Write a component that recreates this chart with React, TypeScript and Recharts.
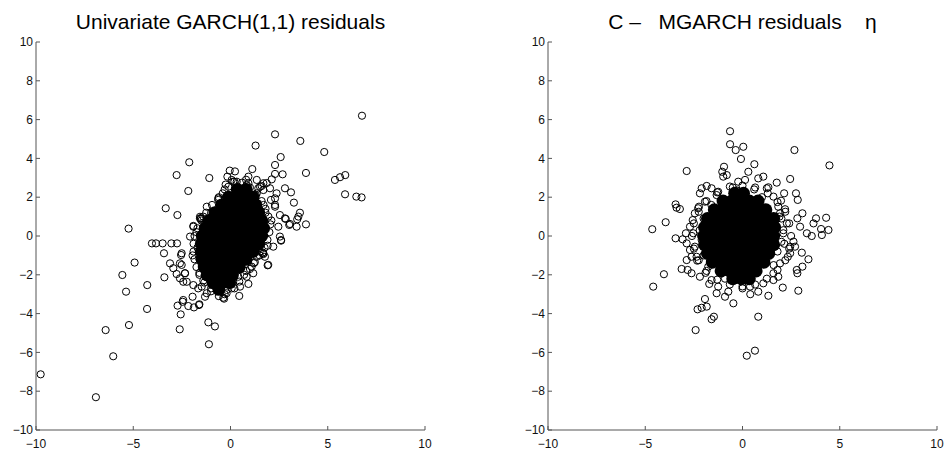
import React from 'react';
import { ScatterChart, Scatter, XAxis, YAxis } from 'recharts';

const xTicks = [-10, -5, 0, 5, 10];
const yTicks = [-10, -8, -6, -4, -2, 0, 2, 4, 6, 8, 10];
const leftTitle = 'Univariate GARCH(1,1) residuals';
const rightTitle = 'C \u2013   MGARCH residuals    \u03B7';

// Univariate GARCH(1,1) residuals: scattered points
const garchOuter: [number, number][] = [
  [-2.12, 3.8], [-2.77, 3.14], [-2.17, 2.32], [-3.33, 1.43], [-2.73, 1.08], [-5.24, 0.38],
  [-4.04, -0.38], [-3.83, -0.38], [-3.49, -0.38], [-3.04, -0.38], [-2.75, -0.38], [-3.42, -0.89],
  [-1.91, 0.52], [-1.53, 0.88],
  [6.76, 6.2], [2.29, 5.24], [1.29, 4.66], [3.59, 4.9], [4.82, 4.33], [2.58, 4.07], [2.29, 3.66],
  [-1.09, 2.99], [1.12, 3.45], [-0.04, 3.37], [0.23, 3.33], [3.88, 3.25], [5.37, 2.89], [5.63, 3.03],
  [5.9, 3.14], [5.89, 2.15], [6.47, 2.03], [6.74, 1.99], [2.68, 3.18], [2.29, 3.2], [2.12, 2.92],
  [1.86, 2.73], [1.6, 2.58], [2.8, 2.46], [3.11, 2.25], [3.26, 1.72], [3.57, 1.2], [3.49, 1.0],
  [3.43, 0.86], [3.88, 0.6], [3.06, 0.62], [2.84, 0.88], [2.6, -0.24], [1.69, -0.89], [1.91, -0.5],
  [2.37, 2.2], [2.08, 1.86], [2.29, 1.6], [0.92, 3.06], [0.92, 2.72], [1.43, 2.46], [1.69, 2.37],
  [-0.16, 3.06], [0.06, 2.89], [0.32, 2.8], [-0.11, 2.54], [-0.63, 1.86], [-1.52, 0.91],
  [-4.93, -1.37], [-5.56, -2.01], [-3.4, -2.13], [-4.28, -2.53], [-5.37, -2.87], [-4.29, -3.76],
  [-5.22, -4.59], [-6.42, -4.85], [-6.03, -6.2], [-9.76, -7.13], [-6.92, -8.31], [-2.61, -4.81],
  [-2.56, -4.04], [-2.72, -3.59], [-2.46, -3.39], [-2.43, -3.3], [-2.17, -3.61], [-1.88, -3.68],
  [-1.6, -3.52], [-1.95, -3.13], [-3.11, -1.41], [-2.94, -1.66], [-2.77, -1.96], [-2.6, -2.18],
  [-2.43, -2.36], [-2.34, -1.92], [-2.51, -1.49], [-2.54, -0.98], [-1.91, -2.53], [-1.66, -2.7],
  [-1.48, -2.61],
  [1.69, -0.93], [1.91, -1.51], [0.83, -2.1], [0.92, -2.47], [0.06, -2.7], [0.45, -3.09],
  [-0.37, -3.18], [-0.33, -3.23], [-1.31, -3.13], [-1.62, -3.56], [-1.14, -4.45], [-0.8, -4.66],
  [-1.11, -5.58], [0.14, -2.36], [-0.54, -2.44], [-0.88, -2.53], [1.35, -1.07], [1.09, -1.58],
  [2.8, 0.91], [3.02, 0.57], [3.4, 0.48], [1.94, -1.49], [2.6, -0.21], [-1.57, 0.91], [-1.91, 0.48],
  [-2.08, -0.03], [-2.51, -0.89], [-2.6, -1.41], [-2.34, -1.92], [-2.25, -2.36], [1.69, 2.72],
  [2.03, 2.46], [2.29, 1.94], [2.29, 1.51], [2.54, 1.08], [2.46, 0.48], [2.54, -0.03], [2.2, -0.55],
  [1.77, -1.07], [-0.63, 1.94], [-1.22, 1.51], [-1.57, 0.99], [-0.71, -2.61], [-0.2, -2.78],
  [-1.22, -2.95], [0.49, -2.61], [1.17, -1.92], [0.14, 2.8], [0.4, 2.46], [0.83, 2.63], [1.35, 2.89],
  [1.52, 2.54], [1.5, -0.8], [1.2, -1.4], [0.8, -1.8], [0.4, -2.1], [-1.0, 1.2], [-1.3, 0.6],
  [-0.4, 2.2], [-1.6, -1.2], [-1.7, -0.6], [-1.6, -1.9], [-1.4, -2.3], [1.75, 0.3], [1.8, 1.2],
  [1.3, 2.1], [-1.75, 0.2], [-1.0, -2.7],
  // dense fringe hugging the core
  [0.2, 2.8], [0.6, 2.75], [1.0, 2.5], [-0.3, 2.4], [1.35, 2.2], [1.6, 1.8], [1.8, 1.4], [1.95, 1.0],
  [2.05, 0.6], [2.0, 0.2], [1.9, -0.2], [1.75, -0.6], [1.5, -1.0], [1.25, -1.35], [1.0, -1.7],
  [0.7, -2.0], [0.45, -2.35], [0.2, -2.7], [-0.2, -2.95], [-0.6, -3.1], [-1.0, -2.85], [-1.35, -2.4],
  [-1.6, -2.0], [-1.75, -1.6], [-1.85, -1.2], [-1.9, -0.8], [-1.9, -0.4], [-1.85, 0.0], [-1.7, 0.4],
  [-1.5, 0.8], [-1.25, 1.2], [-0.95, 1.6], [-0.6, 2.0], [0.8, 2.9], [1.7, 1.6], [2.1, 0.8],
  [1.65, -0.85], [-0.3, -3.0], [-1.95, -1.0], [-1.4, 1.0], [-0.25, 2.65],
];

// dense centre of the GARCH cloud
const garchCore: [number, number][] = [
  [0.35, 2.4], [0.8, 2.4],
  [-0.1, 2.0], [0.35, 2.0], [0.8, 2.0], [1.15, 2.0],
  [-0.45, 1.6], [0.0, 1.6], [0.45, 1.6], [0.9, 1.6], [1.3, 1.6],
  [-0.8, 1.2], [-0.35, 1.2], [0.1, 1.2], [0.55, 1.2], [1.0, 1.2], [1.45, 1.2],
  [-1.1, 0.8], [-0.65, 0.8], [-0.2, 0.8], [0.25, 0.8], [0.7, 0.8], [1.15, 0.8], [1.6, 0.8],
  [-1.3, 0.4], [-0.85, 0.4], [-0.4, 0.4], [0.05, 0.4], [0.5, 0.4], [0.95, 0.4], [1.4, 0.4], [1.7, 0.4],
  [-1.45, 0.0], [-1.0, 0.0], [-0.55, 0.0], [-0.1, 0.0], [0.35, 0.0], [0.8, 0.0], [1.25, 0.0], [1.6, 0.0],
  [-1.5, -0.4], [-1.05, -0.4], [-0.6, -0.4], [-0.15, -0.4], [0.3, -0.4], [0.75, -0.4], [1.2, -0.4], [1.45, -0.4],
  [-1.5, -0.8], [-1.05, -0.8], [-0.6, -0.8], [-0.15, -0.8], [0.3, -0.8], [0.75, -0.8], [1.15, -0.8],
  [-1.45, -1.2], [-1.0, -1.2], [-0.55, -1.2], [-0.1, -1.2], [0.35, -1.2], [0.8, -1.2],
  [-1.35, -1.6], [-0.9, -1.6], [-0.45, -1.6], [0.0, -1.6], [0.45, -1.6],
  [-1.2, -2.0], [-0.75, -2.0], [-0.3, -2.0], [0.1, -2.0],
  [-0.9, -2.4], [-0.45, -2.4], [-0.05, -2.4],
  [-0.6, -2.75],
];

// C-MGARCH residuals eta
const mgarchOuter: [number, number][] = [
  [-0.64, 5.4], [-0.64, 4.73], [-0.35, 4.43], [0.04, 4.6], [-0.08, 3.97], [-2.87, 3.35], [-0.95, 3.57],
  [-1.04, 3.31], [-0.81, 3.14], [-0.99, 3.06], [0.3, 3.31], [-1.84, 2.58], [-1.59, 2.46], [-1.25, 2.28],
  [-1.33, 2.11], [-2.19, 2.2], [-3.44, 1.63], [-3.39, 1.46], [-3.22, 1.39], [-2.24, 1.51], [-2.45, 1.17],
  [-2.56, 0.82], [-2.7, 0.48], [-3.95, 0.71], [-4.64, 0.35], [-3.44, -0.12], [-3.08, -0.17],
  [-2.91, 0.14], [-2.87, -0.38], [-2.7, -0.72], [-2.87, -1.24], [-2.62, -1.07], [-2.33, -1.27],
  [-3.13, -1.7], [-2.82, -1.75], [-2.62, -1.92], [-4.04, -1.97], [-4.59, -2.61], [-2.19, -2.1],
  [-1.71, -2.47], [-1.33, -2.95], [-0.9, -3.13], [-0.47, -3.47], [-1.93, -3.25], [-2.31, -3.78],
  [-2.1, -3.7], [-1.84, -3.64], [-1.59, -4.29], [-1.47, -4.16], [-2.41, -4.85], [0.22, -6.17],
  [0.64, -5.91],
  [0.61, 3.7], [2.67, 4.43], [4.47, 3.64], [2.45, 2.94], [0.81, 2.97], [1.07, 3.06], [1.33, 2.51],
  [1.76, 2.75], [2.14, 2.2], [2.75, 2.2], [2.84, 1.86], [1.98, 1.82], [2.19, 1.38], [3.08, 1.17],
  [2.82, 0.91], [3.78, 0.91], [4.3, 0.94], [3.65, 0.65], [4.04, 0.36], [4.42, 0.31], [4.08, 0.05],
  [3.56, 0.0], [3.31, 0.14], [2.96, 0.48], [2.62, -0.29], [2.7, -0.55], [3.05, -0.86], [3.39, -1.2],
  [3.08, -1.58], [2.79, -1.75], [2.82, -1.92], [2.33, -1.07], [2.45, -0.55], [2.07, -2.66],
  [2.87, -2.82], [1.33, -3.08], [0.81, -2.87], [1.59, -2.27], [1.84, -2.1], [0.81, -4.16], [2.1, 0.14],
  [2.28, 0.65], [1.93, 1.17], [1.84, 1.51], [1.59, 2.03], [1.25, 2.46], [2.45, -0.89], [1.93, -1.41],
  [1.59, -1.92], [1.07, -2.44], [0.39, -2.61],
  [-2.1, 2.46], [-1.93, 1.77], [-2.28, 1.43], [-2.53, 0.14], [-2.45, -0.55], [-2.36, -1.07],
  [-1.76, -1.58], [-1.59, -2.27], [-1.25, -2.61], [-0.73, -2.87], [-0.22, 2.8], [0.13, 2.89],
  [-0.5, 2.5], [0.6, 2.4], [-1.9, -1.9], [0.0, -2.7], [0.4, -3.0], [-2.0, 0.9], [-2.1, -0.2],
  [2.0, 0.9], [2.0, -0.3], [1.8, -0.8],
  // dense fringe hugging the core
  [2.5, 0.0], [2.4, 0.65], [2.2, 1.25], [1.8, 1.75], [1.3, 2.2], [0.65, 2.5], [0.0, 2.6], [-0.65, 2.55],
  [-1.3, 2.25], [-1.85, 1.8], [-2.25, 1.25], [-2.5, 0.65], [-2.6, 0.0], [-2.5, -0.65], [-2.25, -1.25],
  [-1.85, -1.8], [-1.3, -2.25], [-0.65, -2.5], [0.0, -2.6], [0.65, -2.5], [1.25, -2.2], [1.8, -1.75],
  [2.2, -1.25], [2.4, -0.65], [2.1, 0.3], [1.9, 1.0], [1.0, 2.0], [-0.3, 2.35], [-1.6, 1.6],
  [-2.2, 0.3], [-2.0, -1.0], [-0.9, -2.2], [0.4, -2.3], [1.6, -1.5], [2.15, -0.4],
];

const mgarchCore: [number, number][] = [
  [-0.4, 2.2], [0.05, 2.2],
  [-1.0, 1.8], [-0.55, 1.8], [-0.1, 1.8], [0.35, 1.8], [0.8, 1.8],
  [-1.45, 1.35], [-1.0, 1.35], [-0.55, 1.35], [-0.1, 1.35], [0.35, 1.35], [0.8, 1.35], [1.2, 1.35],
  [-1.8, 0.9], [-1.35, 0.9], [-0.9, 0.9], [-0.45, 0.9], [0.0, 0.9], [0.45, 0.9], [0.9, 0.9], [1.35, 0.9], [1.6, 0.9],
  [-1.95, 0.45], [-1.5, 0.45], [-1.05, 0.45], [-0.6, 0.45], [-0.15, 0.45], [0.3, 0.45], [0.75, 0.45], [1.2, 0.45], [1.65, 0.45],
  [-2.0, 0.0], [-1.55, 0.0], [-1.1, 0.0], [-0.65, 0.0], [-0.2, 0.0], [0.25, 0.0], [0.7, 0.0], [1.15, 0.0], [1.6, 0.0],
  [-1.95, -0.45], [-1.5, -0.45], [-1.05, -0.45], [-0.6, -0.45], [-0.15, -0.45], [0.3, -0.45], [0.75, -0.45], [1.2, -0.45], [1.6, -0.45],
  [-1.8, -0.9], [-1.35, -0.9], [-0.9, -0.9], [-0.45, -0.9], [0.0, -0.9], [0.45, -0.9], [0.9, -0.9], [1.35, -0.9],
  [-1.55, -1.35], [-1.1, -1.35], [-0.65, -1.35], [-0.2, -1.35], [0.25, -1.35], [0.7, -1.35], [1.1, -1.35],
  [-1.1, -1.8], [-0.65, -1.8], [-0.2, -1.8], [0.25, -1.8], [0.7, -1.8],
  [-0.5, -2.2], [-0.05, -2.2], [0.35, -2.2],
];

const toPts = (arr: [number, number][]) => arr.map(([x, y]) => ({ x, y }));

const FONT = '"Liberation Sans", Arial, Helvetica, sans-serif';

const Ring = (props: any) => {
  const { cx, cy } = props;
  if (cx == null || cy == null) return null;
  return <circle cx={cx} cy={cy} r={3.6} fill="none" stroke="#000" strokeWidth={1} />;
};

const Blob = (props: any) => {
  const { cx, cy } = props;
  if (cx == null || cy == null) return null;
  return <circle cx={cx} cy={cy} r={6.5} fill="#000" stroke="none" />;
};

const fmt = (v: number) => (v < 0 ? '\u2212' + Math.abs(v) : String(v));

const Panel = ({ left, title, outer, core }: { left: number; title: string; outer: [number, number][]; core: [number, number][] }) => (
  <div style={{ position: 'absolute', left, top: 0, width: 470, height: 451 }}>
    <div
      style={{
        position: 'absolute',
        left: 36,
        width: 389,
        top: 10,
        textAlign: 'center',
        fontFamily: FONT,
        fontSize: 21,
        lineHeight: '24px',
        whiteSpace: 'pre',
        color: '#000',
      }}
    >
      {title}
    </div>
    <ScatterChart width={470} height={451} margin={{ top: 42, right: 45, bottom: 0, left: 0 }}>
      <XAxis
        type="number"
        dataKey="x"
        domain={[-10, 10]}
        ticks={xTicks}
        interval={0}
        allowDataOverflow
        height={21}
        tickSize={-4}
        tickMargin={13}
        stroke="#555"
        tickFormatter={fmt}
        tick={{ fill: '#111', fontSize: 12, fontFamily: FONT }}
      />
      <YAxis
        type="number"
        dataKey="y"
        domain={[-10, 10]}
        ticks={yTicks}
        interval={0}
        allowDataOverflow
        width={36}
        tickSize={-4}
        tickMargin={7}
        stroke="#555"
        tickFormatter={fmt}
        tick={{ fill: '#111', fontSize: 12, fontFamily: FONT }}
      />
      <Scatter data={toPts(core)} shape={Blob} isAnimationActive={false} />
      <Scatter data={toPts(outer)} shape={Ring} isAnimationActive={false} />
    </ScatterChart>
  </div>
);

export default function App() {
  return (
    <div style={{ position: 'absolute', left: 0, top: 0, width: 947, height: 451, background: '#fff' }}>
      <Panel left={0} title={leftTitle} outer={garchOuter} core={garchCore} />
      <Panel left={512} title={rightTitle} outer={mgarchOuter} core={mgarchCore} />
    </div>
  );
}
